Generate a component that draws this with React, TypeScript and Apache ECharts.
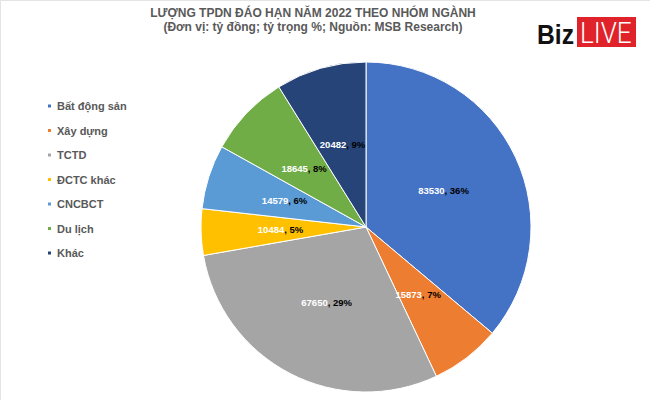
import React, { useEffect, useRef } from "react";
import * as echarts from "echarts";

const categories = ["Bất động sản", "Xây dựng", "TCTD", "ĐCTC khác", "CNCBCT", "Du lịch", "Khác"];
const values = [83530, 15873, 67650, 10484, 14579, 18645, 20482];
const colors = ["#4472C4", "#ED7D31", "#A5A5A5", "#FFC000", "#5B9BD5", "#70AD47", "#264478"];
const titleLine1 = "LƯỢNG TPDN ĐÁO HẠN NĂM 2022 THEO NHÓM NGÀNH";
const titleLine2 = "(Đơn vị: tỷ đồng; tỷ trọng %; Nguồn: MSB Research)";

const FONT = "'Liberation Sans', Arial, sans-serif";

export default function App() {
  const ref = useRef<HTMLDivElement>(null);
  useEffect(() => {
    document.body.style.margin = "0";
    const chart = echarts.init(ref.current!, null, { renderer: "svg" });
    chart.setOption({
      animation: false,
      backgroundColor: "#ffffff",
      textStyle: { fontFamily: FONT },
      color: colors,
      legend: {
        orient: "vertical",
        left: 46,
        top: 100,
        padding: 0,
        itemWidth: 5,
        itemHeight: 5,
        itemGap: 12.5,
        icon: "rect",
        data: categories,
        textStyle: { fontSize: 11, fontWeight: "bold", color: "#595959", lineHeight: 12, fontFamily: FONT },
      },
      graphic: [
        { type: "line", shape: { x1: 0, y1: 0.5, x2: 650, y2: 0.5 }, style: { stroke: "#e4e4e4", lineWidth: 1 } },
        { type: "line", shape: { x1: 0.5, y1: 0, x2: 0.5, y2: 400 }, style: { stroke: "#e4e4e4", lineWidth: 1 } },
        {
          type: "text",
          x: 313,
          y: 13,
          style: { text: titleLine1, fontSize: 12, fontWeight: "bold", fill: "#595959", align: "center", verticalAlign: "middle", fontFamily: FONT },
        },
        {
          type: "text",
          x: 313,
          y: 27,
          style: { text: titleLine2, fontSize: 12, fontWeight: "bold", fill: "#595959", align: "center", verticalAlign: "middle", fontFamily: FONT },
        },
        {
          type: "text",
          x: 537,
          y: 34,
          scaleX: 0.88,
          style: { text: "Biz", fontSize: 28, fontWeight: "bold", fill: "#111111", align: "left", verticalAlign: "middle", fontFamily: FONT },
        },
        { type: "rect", shape: { x: 577, y: 17, width: 59, height: 30 }, style: { fill: "#E0232B" } },
        {
          type: "text",
          x: 580,
          y: 33.5,
          scaleX: 0.9,
          style: { text: "LIVE", fontSize: 29, fontWeight: 300, fill: "#ffffff", align: "left", verticalAlign: "middle", fontFamily: "Roboto, sans-serif" },
        },
      ],
      series: [
        {
          type: "pie",
          center: [366, 227],
          radius: 165,
          startAngle: 90,
          clockwise: true,
          avoidLabelOverlap: false,
          itemStyle: { borderColor: "#ffffff", borderWidth: 1 },
          label: {
            show: true,
            position: "inside",
            formatter: (p: any) => `{v|${p.value}}{p|, ${Math.round(p.percent)}%}`,
            rich: {
              v: { color: "#ffffff", fontSize: 9.5, fontWeight: "bold", fontFamily: FONT },
              p: { color: "#000000", fontSize: 9.5, fontWeight: "bold", fontFamily: FONT },
            },
          },
          labelLine: { show: false },
          emphasis: { disabled: true },
          data: categories.map((name, i) => ({ name, value: values[i] })),
        },
      ],
    });
    return () => chart.dispose();
  }, []);
  return <div ref={ref} style={{ width: 650, height: 400 }} />;
}
